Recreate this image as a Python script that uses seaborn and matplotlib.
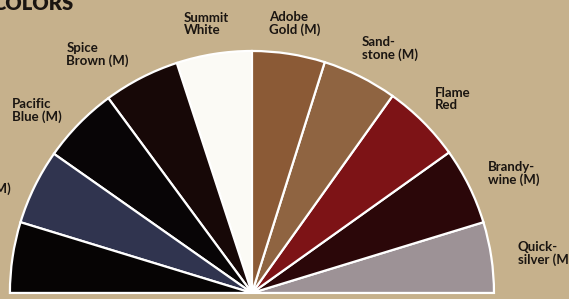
import numpy as np
import matplotlib
matplotlib.use("Agg")
import matplotlib.pyplot as plt
import seaborn as sns

# colour fan, listed right to left (0 deg -> 180 deg)
shade_names = ["Quick-\nsilver (M)", "Brandy-\nwine (M)", "Flame\nRed", "Sand-\nstone (M)",
               "Adobe\nGold (M)", "Summit\nWhite", "Spice\nBrown (M)", "Pacific\nBlue (M)",
               "Light\nBlue (M)", ""]
fan_spans = [17.0, 18.5, 19.0, 18.0, 17.5, 18.1, 18.3, 18.5, 18.1, 17.0]
shade_colors = ["#9d9296", "#2b0709", "#7d1316", "#8f6441", "#8b5a36",
                "#fbfaf5", "#170807", "#080506", "#30344f", "#060404"]
title_text = "COLORS"

# hand nudges of the labels (pixels), the brochure placed them by eye
nudges = [(0, 0), (-5, 1), (-7, 4), (-10, 4), (2, 4),
          (-3, 4), (0, 0), (2, -5), (0, -8), (0, 0)]

bg = "#c6b18c"
ink = "#1a1511"

sns.set_style("white")
plt.rcParams["font.family"] = ["Lato", "DejaVu Sans"]

fig = plt.figure(figsize=(5.69, 2.99), dpi=100, facecolor=bg)
ax = fig.add_axes([0, 0, 1, 1])
ax.set_facecolor(bg)

# half pie: the lower half is an invisible filler wedge
wedges, _ = ax.pie(fan_spans + [sum(fan_spans)],
                   colors=shade_colors + ["none"],
                   startangle=0, counterclock=True, radius=1,
                   wedgeprops=dict(edgecolor="white", linewidth=1.6))
wedges[-1].set_visible(False)

# labels outside each wedge
for w, name, nud in zip(wedges[:-1], shade_names, nudges):
    if not name:
        continue
    mid = np.deg2rad((w.theta1 + w.theta2) / 2)
    x, y = 1.11 * np.cos(mid), 1.11 * np.sin(mid)
    if abs(x) < 0.25:
        ha = "center"
    else:
        ha = "left" if x > 0 else "right"
    ax.annotate(name, xy=(x, y), xytext=nud, textcoords="offset pixels",
                ha=ha, va="center", multialignment="left",
                fontsize=9.5, fontweight="bold", color=ink,
                linespacing=1.0, annotation_clip=False)

fig.text(-0.014, 0.968, title_text, ha="left", va="baseline",
         fontsize=14.5, fontweight="heavy", color=ink)

ax.set_xlim(-1.041, 1.31)
ax.set_ylim(-0.025, 1.2107)
ax.set_aspect("auto")
ax.axis("off")

fig.savefig("out.png", dpi=100, facecolor=bg)
